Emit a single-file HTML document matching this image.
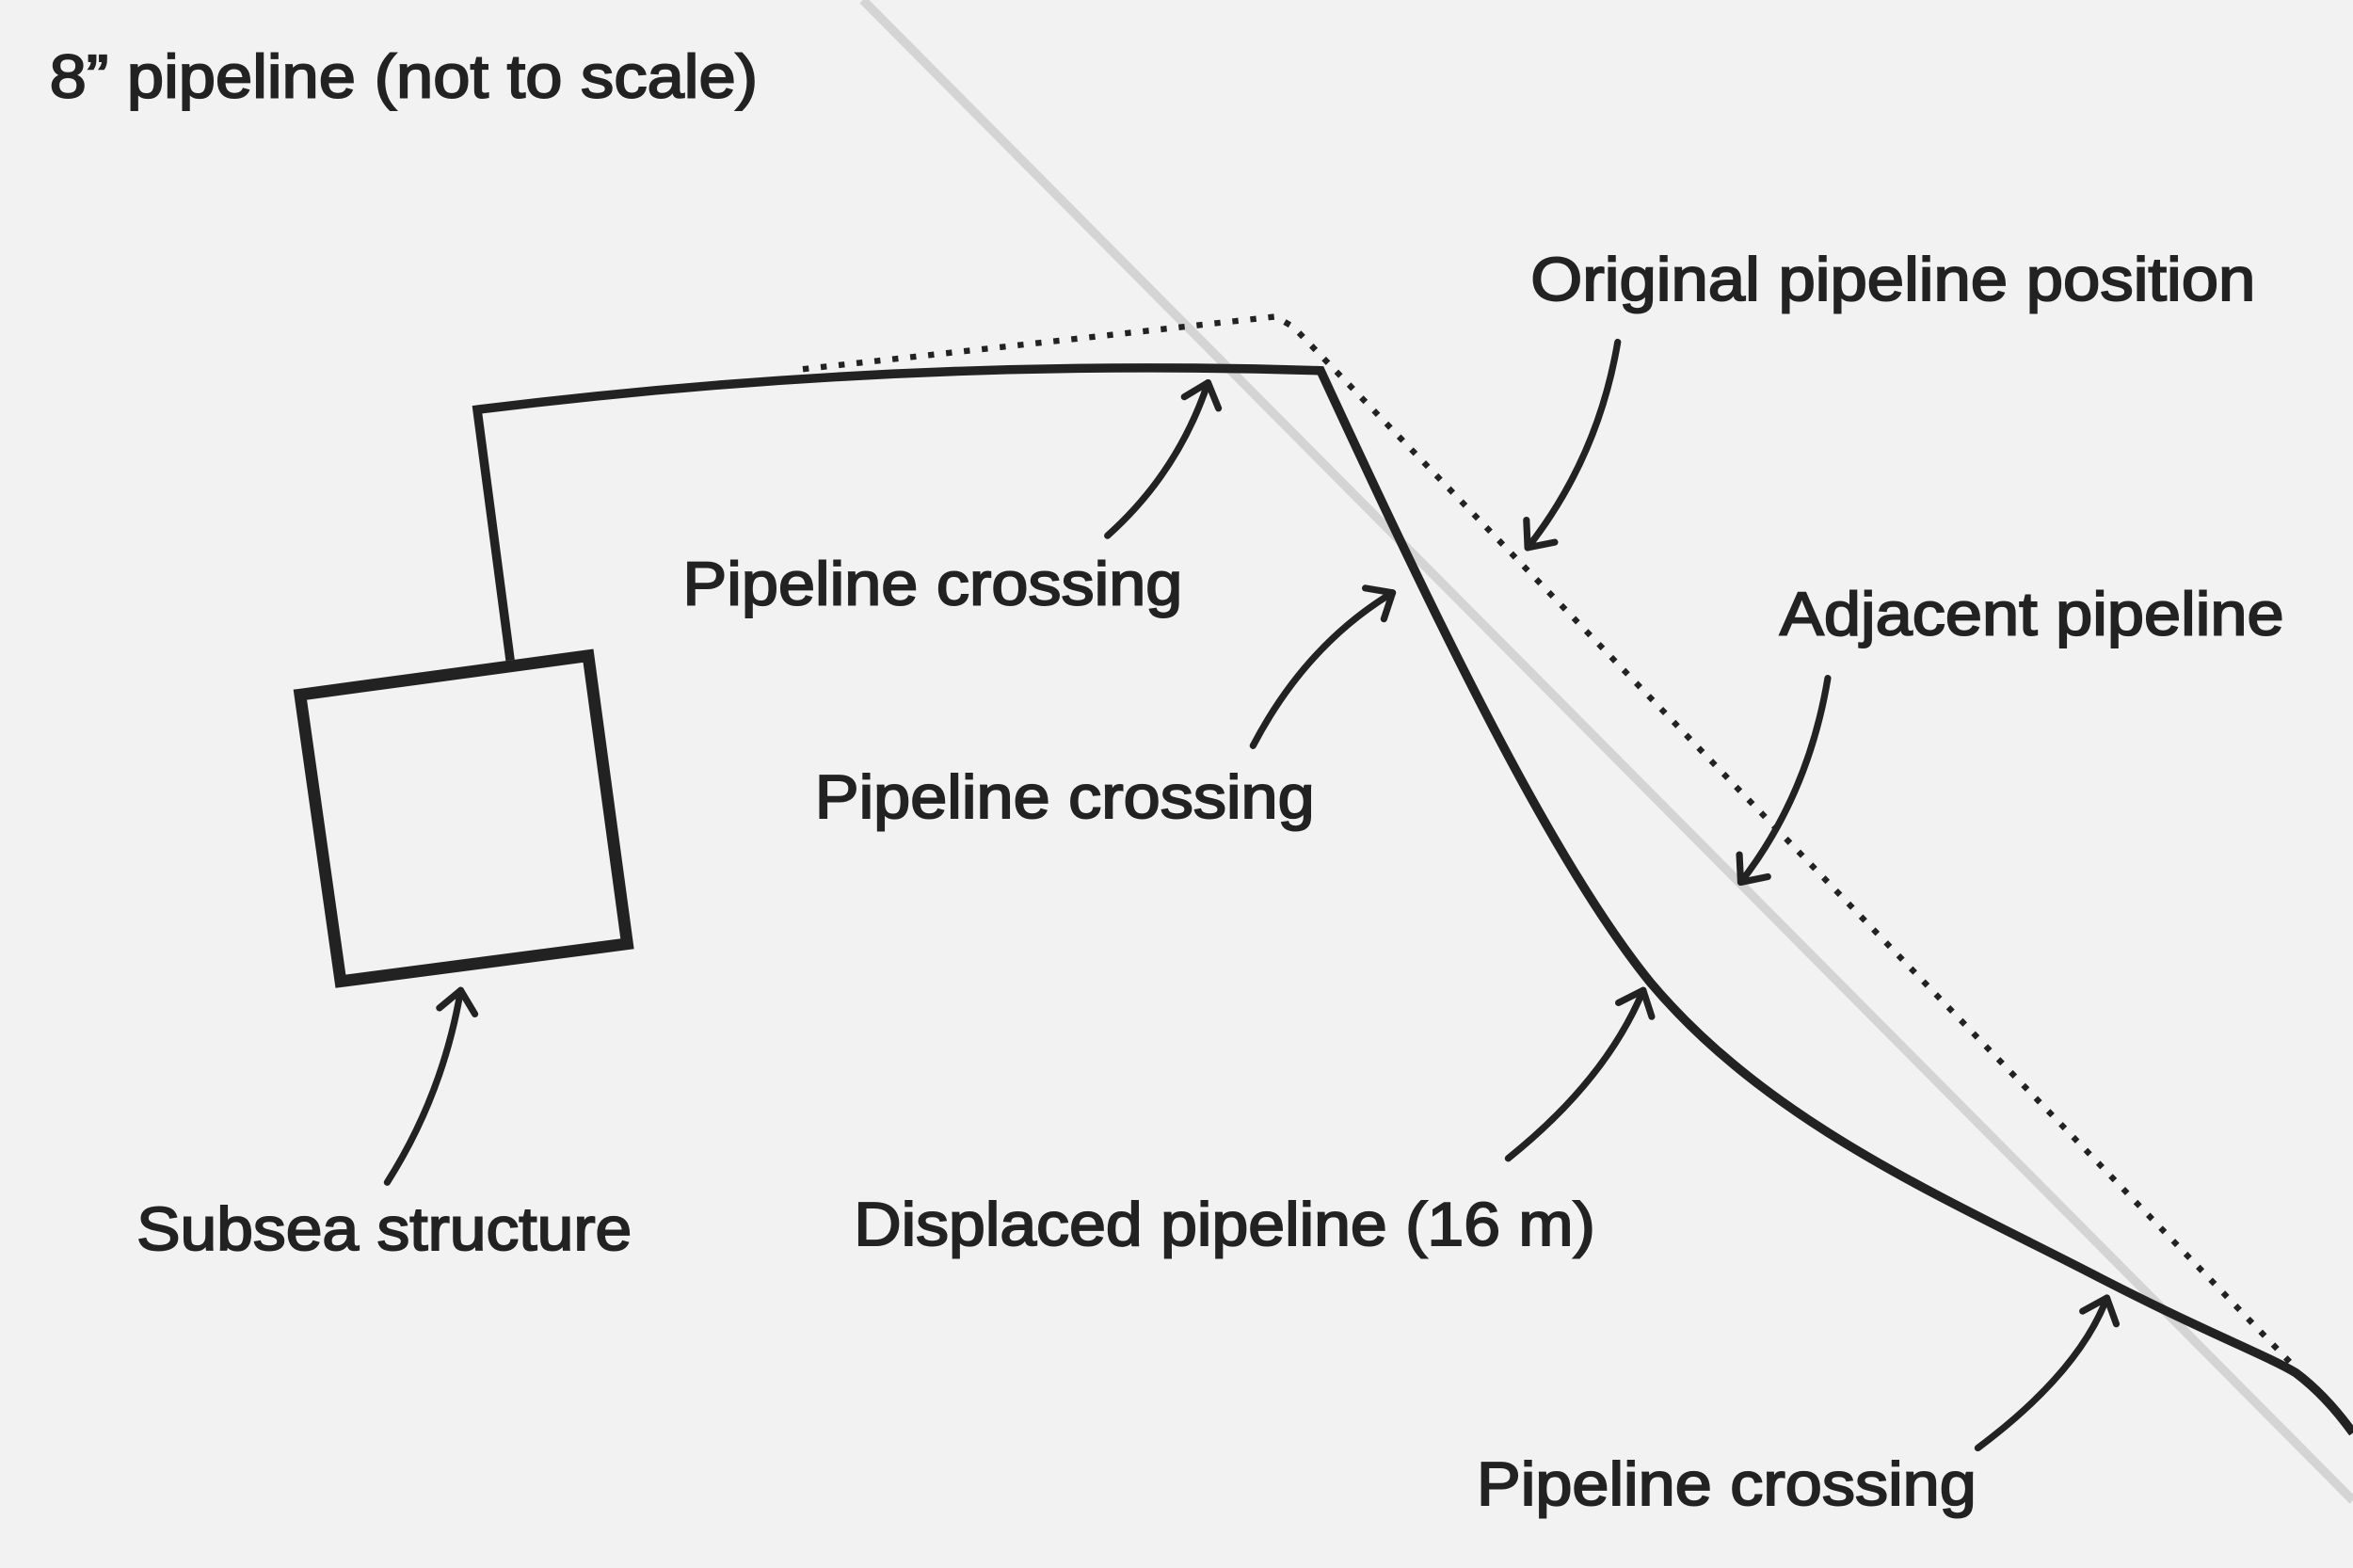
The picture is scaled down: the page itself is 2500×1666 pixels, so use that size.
<!DOCTYPE html>
<html><head><meta charset="utf-8"><style>
html,body{margin:0;padding:0;background:#f2f2f2;}
svg{display:block;}
text{font-family:"Liberation Sans",sans-serif;font-size:41px;fill:#222;stroke:#222;stroke-width:1.2px;}
</style></head><body>
<svg width="2500" height="1666" viewBox="0 0 1568 1045" preserveAspectRatio="none" xmlns="http://www.w3.org/2000/svg">
<defs>
<marker id="a" markerUnits="userSpaceOnUse" markerWidth="40" markerHeight="40" refX="20" refY="20" orient="auto" viewBox="0 0 40 40">
<path d="M6,8 L20,20 L6,32" fill="none" stroke="#222" stroke-width="4.5" stroke-linecap="round" stroke-linejoin="round"/>
</marker>
</defs>
<rect width="1568" height="1045" fill="#f2f2f2"/>
<line x1="575" y1="0" x2="1568" y2="1000" stroke="#d4d4d4" stroke-width="6"/>
<path d="M535,246 L850,211 L862,218 L1530,912" fill="none" stroke="#222" stroke-width="4" stroke-dasharray="4 8"/>
<path d="M340,440 L318,273 Q600,238 880,247 C960,420 1035,575 1100,655 C1180,750 1300,800 1400,852 C1470,888 1510,903 1530,915 Q1550,930 1568,955" fill="none" stroke="#222" stroke-width="6" stroke-linejoin="miter"/>
<polygon points="200,463 392,437 418,629 227,654" fill="none" stroke="#222" stroke-width="8"/>
<g fill="none" stroke="#222" stroke-width="4.5" stroke-linecap="round" marker-end="url(#a)">
<path d="M738,357 Q785,315 805,255"/>
<path d="M835,497 Q870,430 928,395"/>
<path d="M1078,228 Q1065,305 1018,365"/>
<path d="M1218,452 Q1205,530 1160,588"/>
<path d="M1005,772 Q1070,720 1095,660"/>
<path d="M1318,965 Q1385,915 1404,865"/>
<path d="M258,788 Q295,730 307,660"/>
</g>
<text x="33" y="65" textLength="472" lengthAdjust="spacingAndGlyphs">8” pipeline (not to scale)</text>
<text x="455" y="403" textLength="333" lengthAdjust="spacingAndGlyphs">Pipeline crossing</text>
<text x="543" y="545" textLength="333" lengthAdjust="spacingAndGlyphs">Pipeline crossing</text>
<text x="1020" y="200" textLength="483" lengthAdjust="spacingAndGlyphs">Original pipeline position</text>
<text x="1186" y="423" textLength="336" lengthAdjust="spacingAndGlyphs">Adjacent pipeline</text>
<text x="91" y="833" textLength="330" lengthAdjust="spacingAndGlyphs">Subsea structure</text>
<text x="569" y="830" textLength="494" lengthAdjust="spacingAndGlyphs">Displaced pipeline (16 m)</text>
<text x="984" y="1003" textLength="333" lengthAdjust="spacingAndGlyphs">Pipeline crossing</text>
</svg>
</body></html>
